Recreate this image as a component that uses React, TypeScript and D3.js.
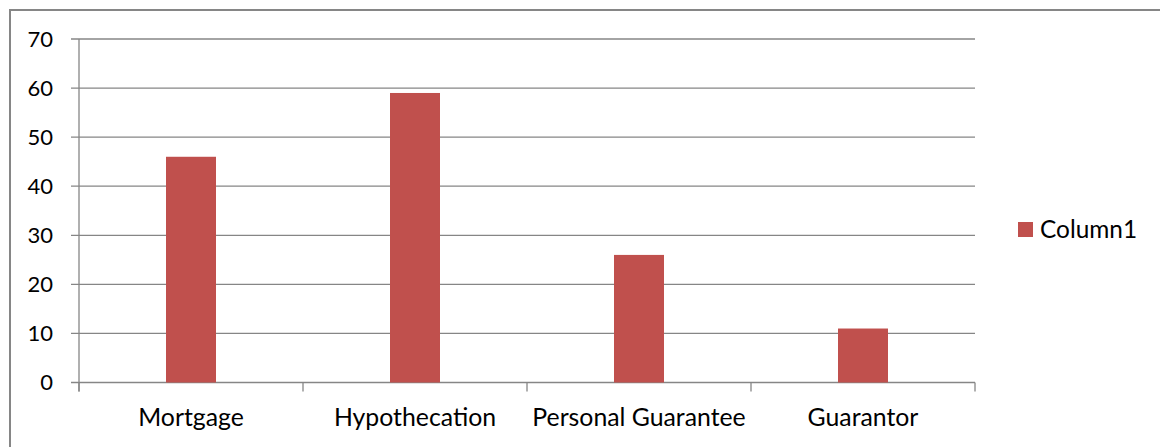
import React from "react";
import * as d3 from "d3";

const categories = ["Mortgage", "Hypothecation", "Personal Guarantee", "Guarantor"];
const column1 = [46, 59, 26, 11];
const yTicks = [0, 10, 20, 30, 40, 50, 60, 70];
const seriesName = "Column1";

const W = 1160;
const H = 447;
const plot = { left: 79, right: 975, top: 39, bottom: 382.5 };
const barColor = "#C0504D";
const axisColor = "#868686";
const font = "Lato, 'Open Sans', sans-serif";

export default function App() {
  const x = d3
    .scaleBand<string>()
    .domain(categories)
    .range([plot.left, plot.right])
    .paddingInner(0)
    .paddingOuter(0);
  const y = d3.scaleLinear().domain([0, 70]).range([plot.bottom, plot.top]);
  const barW = 50;
  const edges = [...categories.map((c) => x(c) as number), plot.right];

  return (
    <svg
      width={W}
      height={H}
      style={{ position: "absolute", left: 0, top: 0, background: "#fff" }}
      fontFamily={font}
    >
      {/* chart frame */}
      <rect x={10} y={10} width={W + 20} height={H + 20} fill="#fff" stroke={axisColor} strokeWidth={2} />

      {/* horizontal gridlines with left tick marks */}
      {yTicks.map((t) => (
        <line
          key={"g" + t}
          x1={plot.left - 8}
          x2={plot.right}
          y1={y(t)}
          y2={y(t)}
          stroke={axisColor}
          strokeWidth={1.3}
        />
      ))}
      {/* value axis */}
      <line x1={plot.left} x2={plot.left} y1={plot.top} y2={plot.bottom + 9} stroke={axisColor} strokeWidth={1.3} />
      {/* category tick marks */}
      {edges.map((e, i) => (
        <line key={"c" + i} x1={e} x2={e} y1={plot.bottom} y2={plot.bottom + 9} stroke={axisColor} strokeWidth={1.3} />
      ))}

      {/* y tick labels */}
      {yTicks.map((t) => (
        <text key={"l" + t} x={53} y={y(t)} dy="0.36em" textAnchor="end" fontSize={22} fill="#000">
          {t}
        </text>
      ))}

      {/* bars */}
      {categories.map((c, i) => {
        const cx = (x(c) as number) + x.bandwidth() / 2;
        return (
          <rect
            key={c}
            x={cx - barW / 2}
            y={y(column1[i])}
            width={barW}
            height={y(0) - y(column1[i])}
            fill={barColor}
          />
        );
      })}

      {/* category labels */}
      {categories.map((c) => (
        <text
          key={"t" + c}
          x={(x(c) as number) + x.bandwidth() / 2}
          y={426}
          textAnchor="middle"
          fontSize={24.8}
          fill="#000"
        >
          {c}
        </text>
      ))}

      {/* legend */}
      <rect x={1018} y={222} width={15} height={15} fill={barColor} />
      <text x={1040} y={238} fontSize={24.4} fill="#000">
        {seriesName}
      </text>
    </svg>
  );
}
